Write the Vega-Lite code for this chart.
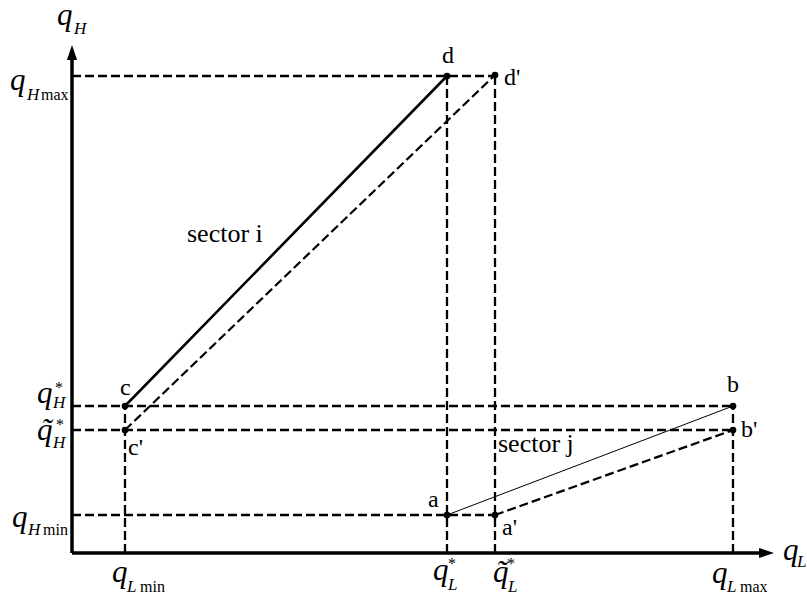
{
  "$schema": "https://vega.github.io/schema/vega-lite/v6.json",
  "width": 807,
  "height": 594,
  "autosize": "none",
  "padding": 0,
  "background": "white",
  "config": {"view": {"stroke": null}},
  "datasets": {
    "segments": [
      {"kind": "solid", "x": 53, "y": 147, "x2": 375, "y2": 477},
      {"kind": "thin", "x": 375, "y": 38, "x2": 661, "y2": 147},
      {"kind": "dashed", "x": 53, "y": 123, "x2": 423, "y2": 478},
      {"kind": "dashed", "x": 423, "y": 38, "x2": 661, "y2": 123},
      {"kind": "dashed", "x": 0, "y": 477, "x2": 423, "y2": 477},
      {"kind": "dashed", "x": 0, "y": 147, "x2": 661, "y2": 147},
      {"kind": "dashed", "x": 0, "y": 123, "x2": 661, "y2": 123},
      {"kind": "dashed", "x": 0, "y": 38, "x2": 423, "y2": 38},
      {"kind": "dashed", "x": 53, "y": 0, "x2": 53, "y2": 147},
      {"kind": "dashed", "x": 375, "y": 0, "x2": 375, "y2": 477},
      {"kind": "dashed", "x": 423, "y": 0, "x2": 423, "y2": 478},
      {"kind": "dashed", "x": 661, "y": 0, "x2": 661, "y2": 147},
      {"kind": "axis", "x": 0, "y": 0, "x2": 690, "y2": 0},
      {"kind": "axis", "x": 0, "y": 0, "x2": 0, "y2": 495}
    ],
    "dots": [
      {"name": "a", "x": 375, "y": 38},
      {"name": "a'", "x": 423, "y": 38},
      {"name": "b", "x": 661, "y": 147},
      {"name": "b'", "x": 661, "y": 123},
      {"name": "c", "x": 53, "y": 147},
      {"name": "c'", "x": 53, "y": 123},
      {"name": "d", "x": 375, "y": 477},
      {"name": "d'", "x": 423, "y": 478}
    ],
    "arrows": [
      {"axis": "x", "x": 702, "y": 0},
      {"axis": "y", "x": 0, "y": 508}
    ],
    "labels": [
      {"kind": "q", "text": "q", "x": -15, "y": 528},
      {"kind": "q", "text": "q", "x": -62, "y": 463},
      {"kind": "q", "text": "q", "x": -35, "y": 150},
      {"kind": "q", "text": "q", "x": -35, "y": 113},
      {"kind": "q", "text": "˜", "x": -31, "y": 113},
      {"kind": "q", "text": "q", "x": -60, "y": 26},
      {"kind": "q", "text": "q", "x": 40, "y": -29},
      {"kind": "q", "text": "q", "x": 361, "y": -27},
      {"kind": "q", "text": "q", "x": 421, "y": -29},
      {"kind": "q", "text": "˜", "x": 424, "y": -29},
      {"kind": "q", "text": "q", "x": 640, "y": -30},
      {"kind": "q", "text": "q", "x": 711, "y": -7},
      {"kind": "sub", "text": "H", "x": 2, "y": 519},
      {"kind": "sub", "text": "H", "x": -45, "y": 453},
      {"kind": "sub", "text": "H", "x": -19, "y": 145},
      {"kind": "sub", "text": "H", "x": -19, "y": 105},
      {"kind": "sub", "text": "H", "x": -44, "y": 18},
      {"kind": "sub", "text": "L", "x": 55, "y": -39},
      {"kind": "sub", "text": "L", "x": 376, "y": -37},
      {"kind": "sub", "text": "L", "x": 436, "y": -39},
      {"kind": "sub", "text": "L", "x": 655, "y": -39},
      {"kind": "sub", "text": "L", "x": 725, "y": -14},
      {"kind": "subr", "text": "max", "x": -31, "y": 453},
      {"kind": "subr", "text": "min", "x": -29, "y": 18},
      {"kind": "subr", "text": "min", "x": 68, "y": -39},
      {"kind": "subr", "text": "max", "x": 668, "y": -39},
      {"kind": "star", "text": "*", "x": -17, "y": 160},
      {"kind": "star", "text": "*", "x": -16, "y": 123},
      {"kind": "star", "text": "*", "x": 376, "y": -16},
      {"kind": "star", "text": "*", "x": 435, "y": -16},
      {"kind": "pt", "text": "d", "x": 370, "y": 490},
      {"kind": "pt", "text": "d'", "x": 432, "y": 468},
      {"kind": "pt", "text": "c", "x": 48, "y": 158},
      {"kind": "pt", "text": "c'", "x": 56, "y": 98},
      {"kind": "pt", "text": "a", "x": 356, "y": 46},
      {"kind": "pt", "text": "a'", "x": 430, "y": 18},
      {"kind": "pt", "text": "b", "x": 655, "y": 161},
      {"kind": "pt", "text": "b'", "x": 669, "y": 116},
      {"kind": "sector", "text": "sector i", "x": 115, "y": 311},
      {"kind": "sector", "text": "sector  j", "x": 426, "y": 101}
    ]
  },
  "layer": [
    {
      "data": {"name": "segments"},
      "transform": [{"filter": "datum.kind === 'dashed'"}],
      "mark": {"type": "rule", "color": "black", "strokeWidth": 2.3, "strokeDash": [9, 4]},
      "encoding": {
        "x": {"field": "x", "type": "quantitative", "scale": {"domain": [-72, 735], "nice": false, "zero": false}, "axis": null},
        "y": {"field": "y", "type": "quantitative", "scale": {"domain": [-41, 553], "nice": false, "zero": false}, "axis": null},
        "x2": {"field": "x2"},
        "y2": {"field": "y2"}
      }
    },
    {
      "data": {"name": "segments"},
      "transform": [{"filter": "datum.kind === 'solid'"}],
      "mark": {"type": "rule", "color": "black", "strokeWidth": 2.6},
      "encoding": {
        "x": {"field": "x", "type": "quantitative", "scale": {"domain": [-72, 735], "nice": false, "zero": false}, "axis": null},
        "y": {"field": "y", "type": "quantitative", "scale": {"domain": [-41, 553], "nice": false, "zero": false}, "axis": null},
        "x2": {"field": "x2"},
        "y2": {"field": "y2"}
      }
    },
    {
      "data": {"name": "segments"},
      "transform": [{"filter": "datum.kind === 'thin'"}],
      "mark": {"type": "rule", "color": "black", "strokeWidth": 1},
      "encoding": {
        "x": {"field": "x", "type": "quantitative", "scale": {"domain": [-72, 735], "nice": false, "zero": false}, "axis": null},
        "y": {"field": "y", "type": "quantitative", "scale": {"domain": [-41, 553], "nice": false, "zero": false}, "axis": null},
        "x2": {"field": "x2"},
        "y2": {"field": "y2"}
      }
    },
    {
      "data": {"name": "segments"},
      "transform": [{"filter": "datum.kind === 'axis'"}],
      "mark": {"type": "rule", "color": "black", "strokeWidth": 3.5},
      "encoding": {
        "x": {"field": "x", "type": "quantitative", "scale": {"domain": [-72, 735], "nice": false, "zero": false}, "axis": null},
        "y": {"field": "y", "type": "quantitative", "scale": {"domain": [-41, 553], "nice": false, "zero": false}, "axis": null},
        "x2": {"field": "x2"},
        "y2": {"field": "y2"}
      }
    },
    {
      "data": {"name": "arrows"},
      "transform": [{"filter": "datum.axis === 'x'"}],
      "mark": {"type": "point", "shape": "M0,0L-1,-0.34L-1,0.34Z", "filled": true, "color": "black", "opacity": 1, "size": 900},
      "encoding": {
        "x": {"field": "x", "type": "quantitative", "scale": {"domain": [-72, 735], "nice": false, "zero": false}, "axis": null},
        "y": {"field": "y", "type": "quantitative", "scale": {"domain": [-41, 553], "nice": false, "zero": false}, "axis": null}
      }
    },
    {
      "data": {"name": "arrows"},
      "transform": [{"filter": "datum.axis === 'y'"}],
      "mark": {"type": "point", "shape": "M0,0L-0.34,1L0.34,1Z", "filled": true, "color": "black", "opacity": 1, "size": 900},
      "encoding": {
        "x": {"field": "x", "type": "quantitative", "scale": {"domain": [-72, 735], "nice": false, "zero": false}, "axis": null},
        "y": {"field": "y", "type": "quantitative", "scale": {"domain": [-41, 553], "nice": false, "zero": false}, "axis": null}
      }
    },
    {
      "data": {"name": "dots"},
      "mark": {"type": "point", "shape": "circle", "filled": true, "color": "black", "opacity": 1, "size": 45},
      "encoding": {
        "x": {"field": "x", "type": "quantitative", "scale": {"domain": [-72, 735], "nice": false, "zero": false}, "axis": null},
        "y": {"field": "y", "type": "quantitative", "scale": {"domain": [-41, 553], "nice": false, "zero": false}, "axis": null}
      }
    },
    {
      "data": {"name": "labels"},
      "transform": [{"filter": "datum.kind === 'q'"}],
      "mark": {"type": "text", "font": "Liberation Serif", "fontStyle": "italic", "fontSize": 31, "align": "left", "baseline": "alphabetic", "color": "black"},
      "encoding": {
        "x": {"field": "x", "type": "quantitative", "scale": {"domain": [-72, 735], "nice": false, "zero": false}, "axis": null},
        "y": {"field": "y", "type": "quantitative", "scale": {"domain": [-41, 553], "nice": false, "zero": false}, "axis": null},
        "text": {"field": "text"}
      }
    },
    {
      "data": {"name": "labels"},
      "transform": [{"filter": "datum.kind === 'sub'"}],
      "mark": {"type": "text", "font": "Liberation Serif", "fontStyle": "italic", "fontSize": 17, "align": "left", "baseline": "alphabetic", "color": "black"},
      "encoding": {
        "x": {"field": "x", "type": "quantitative", "scale": {"domain": [-72, 735], "nice": false, "zero": false}, "axis": null},
        "y": {"field": "y", "type": "quantitative", "scale": {"domain": [-41, 553], "nice": false, "zero": false}, "axis": null},
        "text": {"field": "text"}
      }
    },
    {
      "data": {"name": "labels"},
      "transform": [{"filter": "datum.kind === 'subr'"}],
      "mark": {"type": "text", "font": "Liberation Serif", "fontSize": 16, "align": "left", "baseline": "alphabetic", "color": "black"},
      "encoding": {
        "x": {"field": "x", "type": "quantitative", "scale": {"domain": [-72, 735], "nice": false, "zero": false}, "axis": null},
        "y": {"field": "y", "type": "quantitative", "scale": {"domain": [-41, 553], "nice": false, "zero": false}, "axis": null},
        "text": {"field": "text"}
      }
    },
    {
      "data": {"name": "labels"},
      "transform": [{"filter": "datum.kind === 'star'"}],
      "mark": {"type": "text", "font": "Liberation Serif", "fontSize": 16, "align": "left", "baseline": "alphabetic", "color": "black"},
      "encoding": {
        "x": {"field": "x", "type": "quantitative", "scale": {"domain": [-72, 735], "nice": false, "zero": false}, "axis": null},
        "y": {"field": "y", "type": "quantitative", "scale": {"domain": [-41, 553], "nice": false, "zero": false}, "axis": null},
        "text": {"field": "text"}
      }
    },
    {
      "data": {"name": "labels"},
      "transform": [{"filter": "datum.kind === 'pt'"}],
      "mark": {"type": "text", "font": "Liberation Serif", "fontSize": 24, "align": "left", "baseline": "alphabetic", "color": "black"},
      "encoding": {
        "x": {"field": "x", "type": "quantitative", "scale": {"domain": [-72, 735], "nice": false, "zero": false}, "axis": null},
        "y": {"field": "y", "type": "quantitative", "scale": {"domain": [-41, 553], "nice": false, "zero": false}, "axis": null},
        "text": {"field": "text"}
      }
    },
    {
      "data": {"name": "labels"},
      "transform": [{"filter": "datum.kind === 'sector'"}],
      "mark": {"type": "text", "font": "Liberation Serif", "fontSize": 26, "align": "left", "baseline": "alphabetic", "color": "black"},
      "encoding": {
        "x": {"field": "x", "type": "quantitative", "scale": {"domain": [-72, 735], "nice": false, "zero": false}, "axis": null},
        "y": {"field": "y", "type": "quantitative", "scale": {"domain": [-41, 553], "nice": false, "zero": false}, "axis": null},
        "text": {"field": "text"}
      }
    }
  ]
}
